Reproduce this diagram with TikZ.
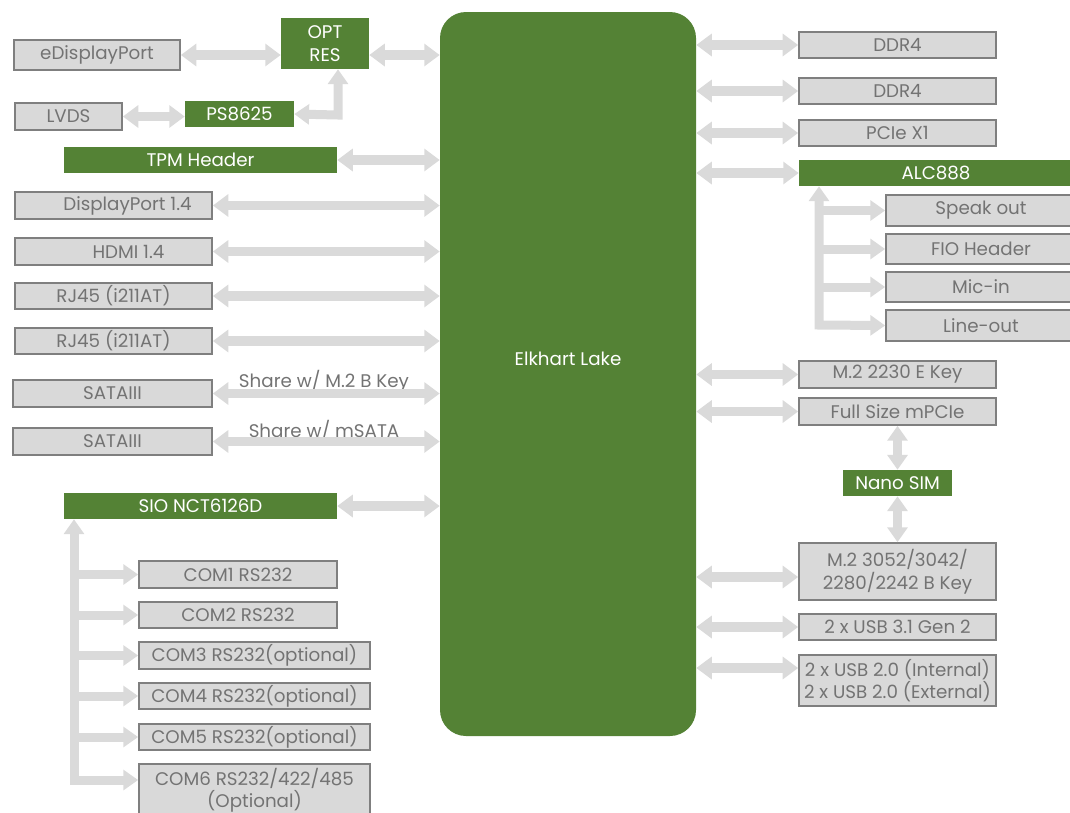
\documentclass[tikz,border=0pt]{standalone}
\usepackage{fontspec}
\setmainfont{Poppins}
\usepackage{xcolor}
\usetikzlibrary{arrows.meta}
\definecolor{boardgreen}{HTML}{548235}
\definecolor{boxgray}{HTML}{D9D9D9}
\definecolor{edgegray}{HTML}{7F7F7F}
\definecolor{txtgray}{HTML}{737373}
\definecolor{busgray}{HTML}{DADADA}
\newcommand{\boxfont}{\fontsize{13}{16}\selectfont}
\tikzset{
    spanning/.style n args={4}{at={({(#1+#3)/2},{(#2+#4)/2})}, minimum width={(#3-#1)*0.025cm}, minimum height={(#4-#2)*0.025cm}},
    gbox/.style={draw=edgegray, line width=1.2pt, fill=boxgray, text=txtgray, inner sep=0pt, font=\boxfont},
    vbox/.style={fill=boardgreen, text=white, inner sep=0pt, font=\boxfont},
    note/.style={text=txtgray, inner sep=0pt, font=\boxfont},
    bus/.style={busgray, line width=7pt, {Triangle[width=15.5pt,length=11pt]}-{Triangle[width=15.5pt,length=11pt]}},
    tree/.style={busgray, line width=6.4pt, {Triangle[width=14pt,length=10.5pt]}-{Triangle[width=14pt,length=10.5pt]}},
    tap/.style={busgray, line width=6.4pt, -{Triangle[width=14pt,length=10.5pt]}}
}
\begin{document}
\begin{tikzpicture}[x=0.025cm, y=-0.025cm]
                \useasboundingbox (0,0) rectangle (1070,812);

                \node[vbox, rounded corners=0.65cm, spanning={440}{12}{696}{736}, label={[white, font=\boxfont, yshift=0.375cm]center:Elkhart Lake}] (elk) {};

                \node[gbox, spanning={14}{40}{180}{70}] (edp) {eDisplayPort};
                \node[vbox, spanning={281}{18}{369}{69}, align=center] (opt) {OPT\\RES};
                \node[gbox, spanning={15}{103}{122}{130}] (lvds) {LVDS};
                \node[vbox, spanning={185}{101}{294}{127}] (ps) {PS8625};
                \node[vbox, spanning={64}{147}{337}{173}] (tpm) {TPM Header};
                \node[gbox, spanning={15}{192}{212}{219}] (dp) {\hspace*{0.7cm}DisplayPort 1.4};
                \node[gbox, spanning={15}{238}{212}{265}] (hdmi) {\hspace*{0.75cm}HDMI 1.4};
                \node[gbox, spanning={15}{283}{212}{309}] (rja) {RJ45 (i211AT)};
                \node[gbox, spanning={15}{328}{212}{354}] (rjb) {RJ45 (i211AT)};
                \node[gbox, spanning={13}{380}{212}{407}] (sataa) {SATAIII};
                \node[gbox, spanning={13}{428}{212}{455}] (satab) {SATAIII};
                \node[vbox, spanning={64}{493}{337}{519}] (sio) {SIO NCT6126D};
                \node[gbox, spanning={139}{561}{337}{588}] (com1) {COM1 RS232};
                \node[gbox, spanning={139}{602}{337}{628}] (com2) {COM2 RS232};
                \node[gbox, spanning={139}{642}{370}{669}] (com3) {COM3 RS232(optional)};
                \node[gbox, spanning={139}{683}{370}{709}] (com4) {COM4 RS232(optional)};
                \node[gbox, spanning={139}{724}{370}{750}] (com5) {COM5 RS232(optional)};
                \node[gbox, spanning={139}{764}{370}{816}, align=center] (com6) {COM6 RS232/422/485\\(Optional)};

                \node[gbox, spanning={799}{32}{996}{58}] (ddra) {DDR4};
                \node[gbox, spanning={799}{78}{996}{104}] (ddrb) {DDR4};
                \node[gbox, spanning={799}{120}{996}{146}] (pcie) {PCIe X1};
                \node[vbox, spanning={799}{160}{1073}{186}] (alc) {ALC888};
                \node[gbox, spanning={886}{195}{1076}{226}] (spk) {Speak out};
                \node[gbox, spanning={886}{234}{1076}{264}] (fio) {FIO Header};
                \node[gbox, spanning={886}{272}{1076}{302}] (mic) {Mic-in};
                \node[gbox, spanning={886}{310}{1076}{341}] (lineout) {Line-out};
                \node[gbox, spanning={799}{361}{996}{388}] (m2e) {M.2 2230 E Key};
                \node[gbox, spanning={799}{398}{996}{425}] (mpcie) {Full Size mPCIe};
                \node[vbox, spanning={843}{470}{952}{496}] (nano) {Nano SIM};
                \node[gbox, spanning={799}{543}{996}{600}, align=center] (m2b) {M.2 3052/3042/\\2280/2242 B Key};
                \node[gbox, spanning={799}{614}{996}{640}] (usbc) {2 x USB 3.1 Gen 2};
                \node[gbox, spanning={799}{655}{996}{706}, align=center] (usbd) {2 x USB 2.0 (Internal)\\2 x USB 2.0 (External)};

                \node[note, anchor=base] (sharea) at (324,387) {Share w/ M.2 B Key};
                \node[note, anchor=base] (shareb) at (324,437) {Share w/ mSATA};

                \coordinate (optdrop) at (338,115);
                \coordinate (siobus) at (74,780);
                \coordinate (alcbus) at (819,325);

                \draw[bus] (edp.east) -- (edp.east -| opt.west);
                \draw[bus] (opt.east |- edp.east) -- (elk.west |- edp.east);
                \draw[bus] (lvds.east) -- (lvds.east -| ps.west);
                \draw[tree] (optdrop |- opt.south) -- (optdrop) -- (ps.east);
                \foreach \n in {tpm,dp,hdmi,rja,rjb,sataa,satab,sio}
                    \draw[bus] (\n.east) -- (\n.east -| elk.west);
                \draw[tree] (siobus |- sio.south) -- (siobus) -- (siobus -| com6.west);
                \foreach \n in {com1,com2,com3,com4,com5}
                    \draw[tap] (siobus |- \n.west) -- (\n.west);

                \foreach \n in {ddra,ddrb,pcie,alc,m2e,mpcie,usbc}
                    \draw[bus] (elk.east |- \n.west) -- (\n.west);
                \draw[bus] (elk.east |- 0,577) -- (m2b.west |- 0,577);
                \draw[bus] (elk.east |- 0,668) -- (usbd.west |- 0,668);
                \draw[tree] (alcbus |- alc.south) -- (alcbus) -- (lineout.west);
                \foreach \n in {spk,fio,mic}
                    \draw[tap] (alcbus |- \n.west) -- (\n.west);
                \draw[tree] (mpcie.south) -- (nano.north);
                \draw[tree] (nano.south) -- (m2b.north);
\end{tikzpicture}
\end{document}
